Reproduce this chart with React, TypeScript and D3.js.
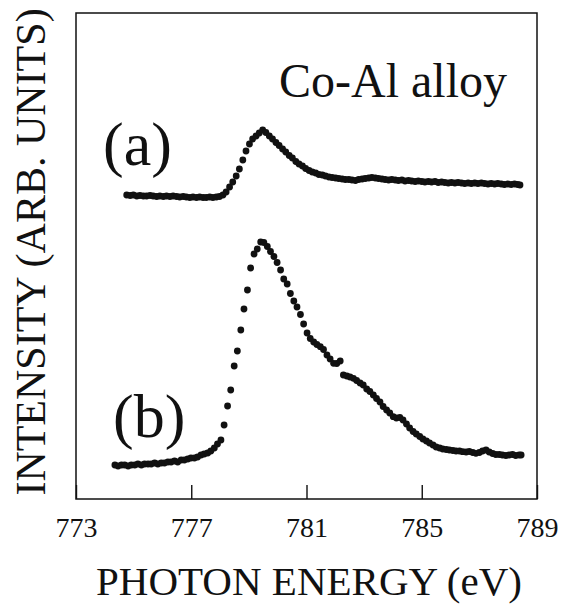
import React, { useEffect, useRef } from "react";
import * as d3 from "d3";

// Series (a): photon energy (eV) and intensity (arb. units)
const energyA = [774.76,774.88,774.99,775.11,775.22,775.34,775.45,775.57,775.68,775.80,
775.91,776.03,776.14,776.26,776.37,776.49,776.60,776.72,776.83,776.95,
777.06,777.18,777.29,777.41,777.52,777.64,777.75,777.87,777.98,778.10,
778.21,778.33,778.44,778.56,778.67,778.79,778.90,779.02,779.13,779.25,
779.36,779.48,779.59,779.71,779.82,779.94,780.05,780.17,780.28,780.40,
780.51,780.63,780.74,780.86,780.97,781.09,781.20,781.32,781.43,781.55,
781.66,781.78,781.89,782.01,782.12,782.24,782.35,782.47,782.58,782.70,
782.81,782.93,783.04,783.16,783.27,783.39,783.50,783.62,783.73,783.85,
783.96,784.08,784.19,784.31,784.42,784.54,784.65,784.77,784.88,785.00,
785.11,785.23,785.34,785.46,785.57,785.69,785.80,785.92,786.03,786.15,
786.26,786.38,786.49,786.61,786.72,786.84,786.95,787.07,787.18,787.30,
787.41,787.53,787.64,787.76,787.87,787.99,788.10,788.22,788.33,788.41];
const intensityA = [305,304.5,305,304,304.5,304,304,304.5,304,303.5,
304,303.5,304,303.5,304,303.5,303,303.5,303,302.5,
303,302.5,303,302.5,302.5,303,302.5,303,303.5,305,
308,313,318,324,331,340,349,356,361,364,
367,370,367.5,364,361,357.5,354.5,351,348,344.5,
342,338.5,336,334,331.5,329.5,328,327,325.5,325,
324,323,322.5,322,321.5,321,320.5,320.5,320,319.5,
320.5,321,321.5,322,322.5,322,321.5,321,320.5,320,
320.5,320,319.5,320,319,319.5,319,318.5,319,318.5,
318,318.5,318,318.5,317.5,318,317.5,317,317.5,317,
317.5,317,316.5,317,316.5,317,316.5,317,316.5,316,
316.5,316,316.5,316,315.5,316,315.5,316,315.5,315];

// Series (b)
const energyB = [774.35,774.46,774.58,774.69,774.81,774.92,775.04,775.15,775.27,775.38,
775.50,775.61,775.73,775.84,775.96,776.07,776.19,776.30,776.42,776.53,
776.65,776.76,776.88,776.99,777.11,777.22,777.34,777.45,777.57,777.68,
777.80,777.91,778.03,778.14,778.26,778.37,778.49,778.60,778.72,778.83,
778.95,779.06,779.18,779.29,779.41,779.52,779.64,779.75,779.87,779.98,
780.10,780.21,780.33,780.44,780.56,780.67,780.79,780.90,781.02,781.13,
781.25,781.36,781.48,781.59,781.71,781.82,781.94,782.05,782.17,782.28,
782.40,782.51,782.63,782.74,782.86,782.97,783.09,783.20,783.32,783.43,
783.55,783.66,783.78,783.89,784.01,784.12,784.24,784.35,784.47,784.58,
784.70,784.81,784.93,785.04,785.16,785.27,785.39,785.50,785.62,785.73,
785.85,785.96,786.08,786.19,786.31,786.42,786.54,786.65,786.77,786.88,
787.00,787.11,787.23,787.34,787.46,787.57,787.69,787.80,787.92,788.03,
788.15,788.26,788.38,788.45];
const intensityB = [35,34,35,35,34,35,35,36,35,36,
36,36,37,36,37,37,38,38,39,38,
40,40,41,42,42,43,45,46,47,49,
52,56,60,75,94,110,134,149,170,191,
210,232,246,251,258,257.5,253.5,248.5,243.5,237.5,
230,221,216,206.5,199,193,185.5,176,167,161.5,
158,155.5,153.3,150.5,145,141,136.7,136.5,139,125,
124,123,121.7,119.5,117,115,111,108.5,105,101.5,
98,93.5,90,87,83.3,82,82.5,80,76,72,
68.5,66,63.5,61,59,57,55,53,52,51,
50.5,50,49.5,49,49,48.3,48,48.5,47.5,46.7,
47.5,49,50,48,46.5,45.5,45.5,45,44.5,45,
45.5,44.5,45,45];

const xTicks = [773, 777, 781, 785, 789];
const xLabel = "PHOTON ENERGY (eV)";
const yLabel = "INTENSITY (ARB. UNITS)";
const title = "Co-Al alloy";
const seriesLabels = ["(a)", "(b)"];

const W = 561, H = 607;
const box = { left: 76, right: 537, top: 13, bottom: 499 };
const FONT = '"Liberation Serif", "DejaVu Serif", "Times New Roman", Times, serif';
const INK = "#111";

export default function App() {
  const axisRef = useRef<SVGGElement>(null);
  const x = d3.scaleLinear().domain([773, 789]).range([box.left, box.right]);
  const y = d3.scaleLinear().domain([0, 487]).range([500, 13]);

  const ptsA = energyA.map((e, i) => ({ e, v: intensityA[i] })).filter(p => p.v !== undefined);
  const ptsB = energyB.map((e, i) => ({ e, v: intensityB[i] })).filter(p => p.v !== undefined);

  useEffect(() => {
    if (!axisRef.current) return;
    const g = d3.select(axisRef.current);
    g.selectAll("*").remove();
    g.call(
      d3.axisBottom(x)
        .tickValues(xTicks)
        .tickSizeInner(-14)
        .tickSizeOuter(0)
        .tickPadding(18)
        .tickFormat(d3.format("d"))
    );
    g.attr("font-family", null);
    g.select(".domain").remove();
    g.selectAll(".tick line").attr("stroke", INK).attr("stroke-width", 1.4);
    g.selectAll(".tick text")
      .style("font-family", FONT)
      .style("font-size", "28px")
      .attr("fill", INK);
  }, []);

  const ts = { fontFamily: FONT, fill: INK } as React.CSSProperties;

  return (
    <svg width={W} height={H} style={{ position: "absolute", left: 0, top: 0, background: "#fff", fontFamily: FONT }}>
      <rect x={box.left} y={box.top} width={box.right - box.left} height={box.bottom - box.top}
        fill="none" stroke={INK} strokeWidth={1.5} />
      <g ref={axisRef} transform={`translate(0,${box.bottom})`} />
      <g fill={INK}>
        {ptsA.map((p, i) => (
          <circle key={"a" + i} cx={x(p.e)} cy={y(p.v)} r={3.4} />
        ))}
        {ptsB.map((p, i) => (
          <circle key={"b" + i} cx={x(p.e)} cy={y(p.v)} r={3.4} />
        ))}
      </g>
      <text x={507} y={97} textAnchor="end" style={{ ...ts, fontSize: 48 }}>{title}</text>
      <text x={103} y={165} style={{ ...ts, fontSize: 62 }}>{seriesLabels[0]}</text>
      <text x={113} y={437} style={{ ...ts, fontSize: 62 }}>{seriesLabels[1]}</text>
      <text x={309} y={595} textAnchor="middle" style={{ ...ts, fontSize: 41 }}>{xLabel}</text>
      <text transform={`translate(45,252) rotate(-90)`} textAnchor="middle" style={{ ...ts, fontSize: 42 }}>{yLabel}</text>
    </svg>
  );
}
